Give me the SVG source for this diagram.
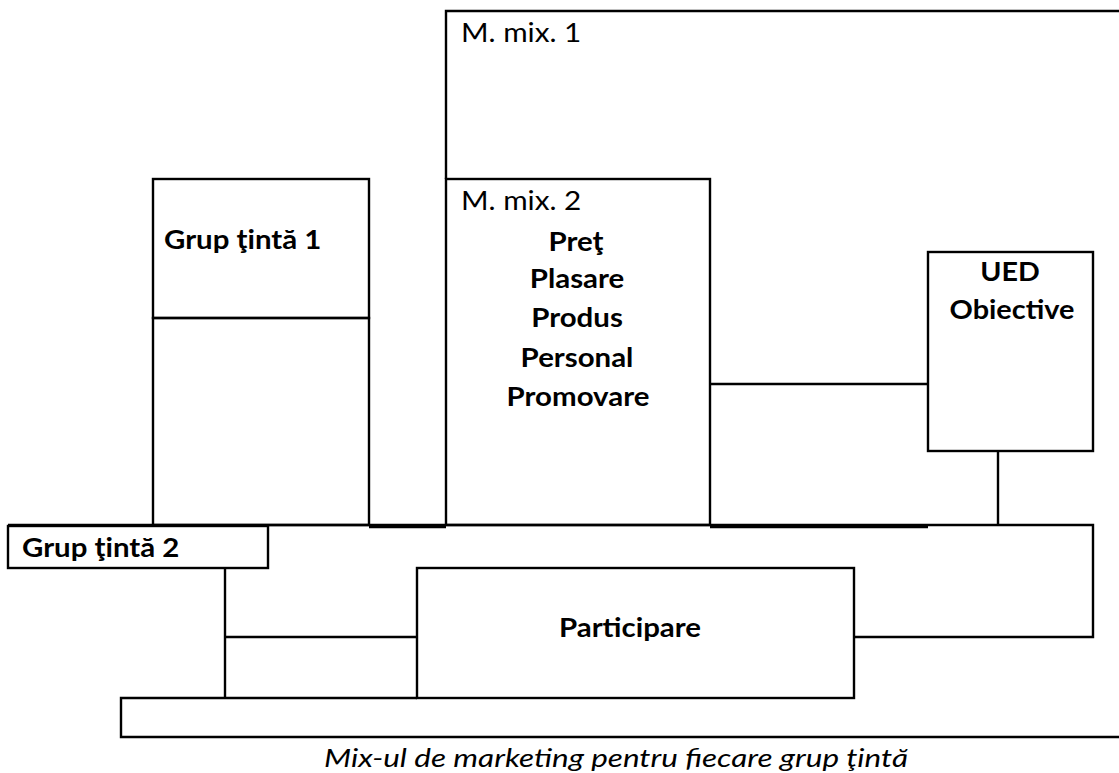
<svg xmlns="http://www.w3.org/2000/svg" width="1119" height="773" viewBox="0 0 1119 773">
<style>
.b{fill:none;stroke:#000;stroke-width:2.4}
.c{fill:none;stroke:#000;stroke-width:2.4}
.r{font-family:Lato,"Liberation Sans",sans-serif;font-size:27px;fill:#000}
.t{font-family:Lato,"Liberation Sans",sans-serif;font-size:26.5px;font-weight:bold;fill:#000}
.m{text-anchor:middle}
.i{font-family:Lato,"Liberation Sans",sans-serif;font-size:26px;font-style:italic;fill:#000}
</style>
<rect width="1119" height="773" fill="#fff"/>
<g id="mmix1">
<path class="b" d="M446,179 V11 H1121"/>
<text class="r" transform="translate(461,42) scale(1.1,1)">M. mix. 1</text>
</g>
<g id="mmix2">
<rect class="b" x="446" y="179" width="264" height="346"/>
<text class="r" transform="translate(461,210) scale(1.1,1)">M. mix. 2</text>
<text class="t m" transform="translate(576,251) scale(1.11,1)">Preţ</text>
<text class="t m" transform="translate(577,288) scale(1.11,1)">Plasare</text>
<text class="t m" transform="translate(577,327) scale(1.11,1)">Produs</text>
<text class="t m" transform="translate(577,367) scale(1.11,1)">Personal</text>
<text class="t m" transform="translate(578,406) scale(1.11,1)">Promovare</text>
</g>
<g id="grup1">
<rect class="b" x="153" y="179" width="216" height="139"/>
<rect class="b" x="153" y="318" width="216" height="207"/>
<text class="t" transform="translate(164,249) scale(1.11,1)">Grup ţintă 1</text>
</g>
<g id="ued">
<rect class="b" x="928" y="252" width="165" height="199"/>
<text class="t m" transform="translate(1010,281) scale(1.08,1)">UED</text>
<text class="t m" transform="translate(1012,319) scale(1.09,1)">Obiective</text>
</g>
<g id="mare">
<path class="b" d="M8,525 H1093 V637 H854"/>
</g>
<g id="grup2">
<rect class="b" x="8" y="526" width="260" height="42" fill="#fff"/>
<text class="t" transform="translate(22,557) scale(1.11,1)">Grup ţintă 2</text>
</g>
<g id="participare">
<rect class="b" x="417" y="568" width="437" height="130"/>
<text class="t m" transform="translate(630,637) scale(1.11,1)">Participare</text>
</g>
<g id="baza">
<path class="b" d="M1121,737 H121 V698 H417"/>
</g>
<g id="connectors">
<line class="c" x1="369" y1="527" x2="446" y2="527"/>
<line class="c" x1="710" y1="527" x2="928" y2="527"/>
<line class="c" x1="710" y1="384" x2="928" y2="384"/>
<line class="c" x1="998" y1="451" x2="998" y2="525"/>
<line class="c" x1="225" y1="568" x2="225" y2="698"/>
<line class="c" x1="225" y1="637" x2="417" y2="637"/>
</g>
<text class="i" x="324" y="767" textLength="584" lengthAdjust="spacingAndGlyphs">Mix-ul de marketing pentru fiecare grup ţintă</text>
</svg>
